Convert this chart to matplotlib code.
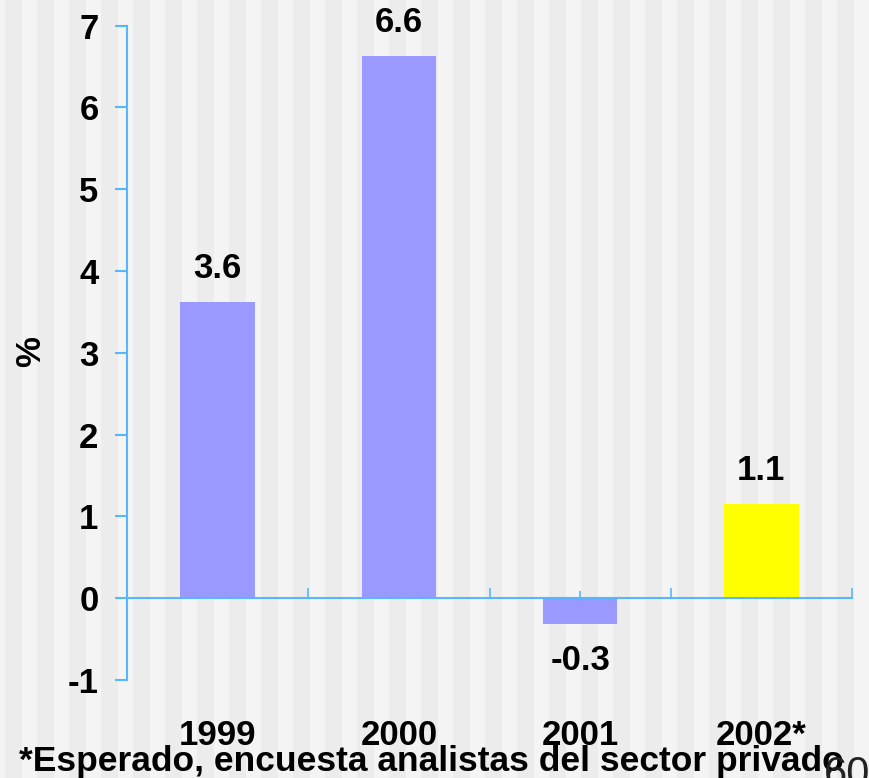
import matplotlib.pyplot as plt
import matplotlib.patches as mpatches

# ── Data ──────────────────────────────────────────────────────────────────────
years = ['1999', '2000', '2001', '2002*']
values = [3.62, 6.63, -0.31, 1.15]
value_labels = ['3.6', '6.6', '-0.3', '1.1']
bar_colors = ['#9999FF', '#9999FF', '#9999FF', '#FFFF00']
y_ticks = [-1, 0, 1, 2, 3, 4, 5, 6, 7]

# ── Style ─────────────────────────────────────────────────────────────────────
BG_LIGHT = '#F4F4F4'
BG_DARK = '#ECECEC'
AXIS_C = '#55B8FF'
FS = 25

plt.rcParams['font.family'] = ['Liberation Sans', 'DejaVu Sans']

fig = plt.figure(figsize=(8.7, 7.78), dpi=100, facecolor=BG_LIGHT)

# vertical stripes in the background
W, H = 870, 778
x0 = 5
while x0 < W:
    fig.add_artist(mpatches.Rectangle((x0 / W, 0), 17 / W, 1,
                                      transform=fig.transFigure,
                                      color=BG_DARK, lw=0, zorder=0))
    x0 += 32

ax = fig.add_axes([127 / W, 1 - 680 / H, (852 - 127) / W, (680 - 25.7) / H])
ax.set_facecolor('none')

x = list(range(len(years)))
ax.bar(x, values, width=0.41, color=bar_colors, zorder=3)

ax.set_xlim(-0.5, 3.5)
ax.set_ylim(-1, 7)

# spines
for s in ['top', 'right']:
    ax.spines[s].set_visible(False)
ax.spines['left'].set_color(AXIS_C)
ax.spines['left'].set_linewidth(1.5)
ax.spines['bottom'].set_position(('data', 0))
ax.spines['bottom'].set_color(AXIS_C)
ax.spines['bottom'].set_linewidth(1.5)
ax.spines['bottom'].set_zorder(4)

# y ticks
ax.set_yticks(y_ticks)
ax.set_yticklabels([str(t) for t in y_ticks], fontsize=FS, fontweight='bold')
ax.tick_params(axis='y', direction='out', length=8.5, width=1.5,
               color=AXIS_C, pad=12)

# x ticks: boundaries (major) and centres (minor), pointing up
ax.set_xticks([-0.5, 0.5, 1.5, 2.5, 3.5])
ax.set_xticks(x, minor=True)
ax.tick_params(axis='x', which='major', direction='in', length=7.5,
               width=1.2, color=AXIS_C, labelbottom=False)
ax.tick_params(axis='x', which='minor', direction='in', length=5,
               width=1.2, color=AXIS_C, labelbottom=False)

# category labels below the plot area
for xi, yr in zip(x, years):
    ax.annotate(yr, xy=(xi, -1), xytext=(0, -28), textcoords='offset points',
                ha='center', va='top', fontsize=FS, fontweight='bold')

# value labels
for xi, v, lbl in zip(x, values, value_labels):
    if v >= 0:
        ax.annotate(lbl, xy=(xi, v), xytext=(0, 12), textcoords='offset points',
                    ha='center', va='bottom', fontsize=FS, fontweight='bold')
    else:
        ax.annotate(lbl, xy=(xi, v), xytext=(0, -15), textcoords='offset points',
                    ha='center', va='top', fontsize=FS, fontweight='bold')

ax.set_ylabel('%', fontsize=FS, fontweight='bold')
ax.yaxis.set_label_coords(-80 / (852 - 127), (680 - 352) / (680 - 25.7))

fig.text(19 / W, 1 - 771 / H, '*Esperado, encuesta analistas del sector privado',
         ha='left', va='baseline', fontsize=25.5, fontweight='bold')
fig.text(824 / W, 1 - 786 / H, '60', ha='left', va='baseline',
         fontsize=30, color='#222222')

fig.savefig('out.png', dpi=100, facecolor=BG_LIGHT)
